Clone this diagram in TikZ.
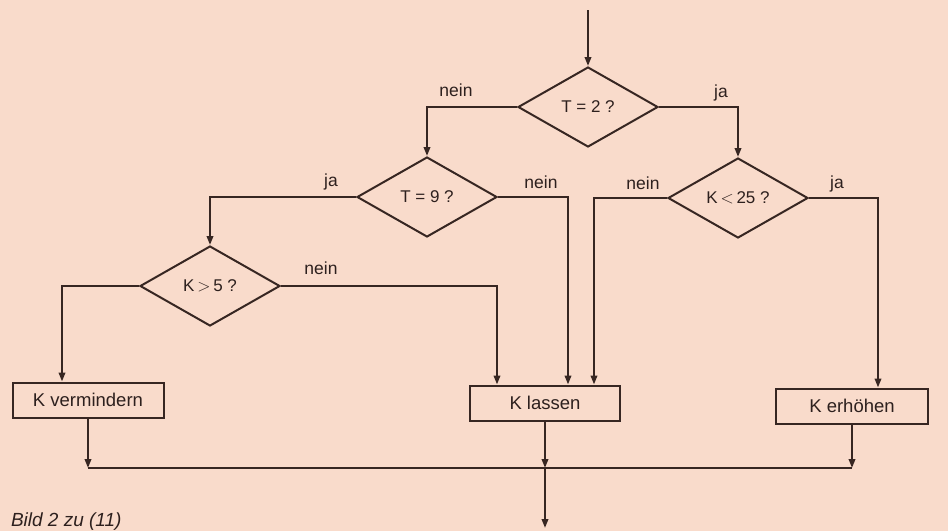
\documentclass[tikz,border=0pt]{standalone}
\usepackage{fontspec}
\setmainfont{Liberation Sans}
\usetikzlibrary{shapes.geometric,arrows.meta,calc}
\definecolor{paper}{RGB}{249,219,203}
\definecolor{ink}{RGB}{55,38,34}
\definecolor{txt}{RGB}{45,32,30}
\begin{document}
\begin{tikzpicture}[x=1pt,y=-1pt,
  line width=2pt,
  every node/.style={text=txt},
  flow/.style={draw=ink,-{Triangle[length=9pt,width=6.5pt]}},
  plain/.style={draw=ink},
  decision/.style={diamond,draw=ink,line width=2pt,minimum width=140pt,minimum height=80pt,inner sep=0pt,font=\fontsize{17}{19}\selectfont},
  action/.style={rectangle,draw=ink,line width=2pt,minimum height=35pt,inner sep=0pt,font=\fontsize{18.5}{20}\selectfont},
  tag/.style={font=\fontsize{17.5}{19}\selectfont,inner sep=0pt}]
  % paper
  \fill[paper] (0,0) rectangle (948,531);
  \clip (0,0) rectangle (948,531);
  \useasboundingbox (0,0) rectangle (948,531);

  % decisions
  \node[decision] (t2)  at (588,107) {T = 2 ?};
  \node[decision] (t9)  at (427,197) {T = 9 ?};
  \node[decision] (k25) at (738,198) {K\,$<$\,25 ?};
  \node[decision] (k5)  at (210,286) {K\,$>$\,5 ?};

  % actions
  \node[action,minimum width=151pt] (dec)  at (88,400)  {K vermindern};
  \node[action,minimum width=150pt] (keep) at (545,403) {K lassen};
  \node[action,minimum width=152pt] (inc)  at (852,406) {K erhöhen};

  % free ends
  \coordinate (in)  at (588,10);
  \coordinate (out) at (545,528);
  \coordinate (m)   at (545,468);
  \coordinate (ka) at ($(keep.north)+(-48,0)$);
  \coordinate (kb) at ($(keep.north)+(23,0)$);
  \coordinate (kc) at ($(keep.north)+(49,0)$);
  \coordinate (da) at ($(dec.north)+(-26,0)$);
  \coordinate (ia) at ($(inc.north)+(26,0)$);

  % branches
  \draw[flow] (in) -- (t2.north);
  \draw[flow] (t2.west) -| (t9.north);
  \draw[flow] (t2.east) -| (k25.north);
  \draw[flow] (t9.west) -| (k5.north);
  \draw[flow] (t9.east) -| (kb);
  \draw[flow] (k25.west) -| (kc);
  \draw[flow] (k25.east) -| (ia);
  \draw[flow] (k5.west) -| (da);
  \draw[flow] (k5.east) -| (ka);

  % merge
  \draw[plain] (dec.south |- m) -- (inc.south |- m);
  \draw[flow] (dec.south) -- (dec.south |- m);
  \draw[flow] (keep.south) -- (m);
  \draw[flow] (inc.south) -- (inc.south |- m);
  \draw[flow] (m) -- (out);

  % branch labels
  \node[tag] (l1) at (456,90)  {nein};
  \node[tag] (l2) at (721,93)  {ja};
  \node[tag] (l3) at (331,182) {ja};
  \node[tag] (l4) at (541,182) {nein};
  \node[tag] (l5) at (643,183) {nein};
  \node[tag] (l6) at (837,184) {ja};
  \node[tag] (l7) at (321,268) {nein};

  % caption
  \node[anchor=base west,inner sep=0pt,font=\fontsize{19}{21}\selectfont\itshape] (cap) at (10,526) {Bild 2 zu (11)};
\end{tikzpicture}
\end{document}
